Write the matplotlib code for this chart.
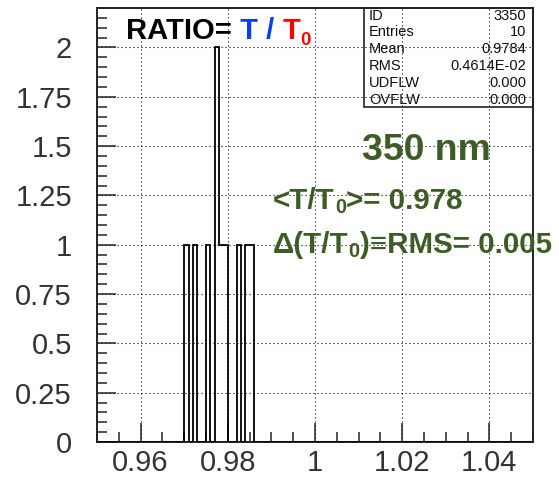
import numpy as np
import matplotlib
matplotlib.use('Agg')
import matplotlib.pyplot as plt
from matplotlib import font_manager
from matplotlib.ticker import MultipleLocator, FixedLocator

# Entries (bin centres) of the T/T0 ratio histogram
entries = [0.9705, 0.9725, 0.9755, 0.9775, 0.9775, 0.9785, 0.9795, 0.9825, 0.9845, 0.9855]
hist_id = 3350
bin_lo, bin_hi, n_bins = 0.95, 1.05, 100
x_labels = [0.96, 0.98, 1.00, 1.02, 1.04]
y_labels = [0, 0.25, 0.5, 0.75, 1, 1.25, 1.5, 1.75, 2]
wavelength = '350 nm'

W, H = 559, 479
GREEN = '#3e5c25'

names = {f.name for f in font_manager.fontManager.ttflist}
if 'Liberation Sans Narrow' in names:
    NARROW, shrink = 'Liberation Sans Narrow', 1.0
else:
    NARROW, shrink = 'Liberation Sans', 0.84
plt.rcParams['font.family'] = ['Liberation Sans', 'DejaVu Sans']

fig = plt.figure(figsize=(W / 100, H / 100), dpi=100)
ax = fig.add_axes([97 / W, 1 - 442 / H, (533 - 97) / W, (442 - 8) / H])

vals = np.array(entries)
edges = np.linspace(bin_lo, bin_hi, n_bins + 1)
ax.hist(vals, bins=edges, histtype='step', color='black', linewidth=1.3, zorder=3)

ax.set_xlim(bin_lo, bin_hi)
ax.set_ylim(0, 2.2)

ax.xaxis.set_major_locator(FixedLocator(x_labels))
ax.xaxis.set_minor_locator(MultipleLocator(0.005))
ax.yaxis.set_major_locator(FixedLocator(y_labels))
ax.yaxis.set_minor_locator(MultipleLocator(0.05))
ax.set_xticklabels(['%g' % v for v in x_labels])
ax.set_yticklabels(['%g' % v for v in y_labels])

ax.tick_params(which='both', direction='in', top=False, right=False,
               labelsize=21, labelcolor='#333333', color='#222222')
ax.tick_params(which='major', length=14, width=1.1)
ax.tick_params(which='minor', length=7, width=1.1)
ax.tick_params(axis='x', pad=5)
ax.tick_params(axis='y', pad=18)
ax.grid(True, which='major', color='black', linewidth=0.8, linestyle=(0, (1, 2.6)))
ax.set_axisbelow(True)
for s in ax.spines.values():
    s.set_color('#222222')
    s.set_linewidth(1.4)

# stats box
mean = vals.mean()
rms = vals.std()
exp = int(np.floor(np.log10(rms))) + 1
rms_str = '%.4fE%+03d' % (rms / 10 ** exp, exp)
rows = [('ID', str(hist_id)), ('Entries', str(len(vals))), ('Mean', '%.4f' % mean),
        ('RMS', rms_str), ('UDFLW', '0.000'), ('OVFLW', '0.000')]
box = plt.Rectangle((364 / W, 1 - 107 / H), (533 - 364) / W, (107 - 8) / H,
                    transform=fig.transFigure, fill=False, edgecolor='#222222', linewidth=1.2)
fig.add_artist(box)
for i, (k, v) in enumerate(rows):
    yy = 1 - (15.5 + 16.8 * i) / H
    fig.text(369 / W, yy, k, fontsize=10.5, va='center', ha='left', color='#111111')
    fig.text(526 / W, yy, v, fontsize=10.5, va='center', ha='right', color='#111111')

renderer = fig.canvas.get_renderer()


def text_run(x, y, pieces):
    # pieces: (text, size, colour, baseline shift px)
    for s, size, col, dy in pieces:
        t = fig.text(x / W, 1 - (y + dy) / H, s, fontsize=size, color=col,
                     family=[NARROW, 'Liberation Sans', 'DejaVu Sans'],
                     fontweight='bold', va='baseline', ha='left')
        bb = t.get_window_extent(renderer)
        x = bb.x1


# title
fs = 25 * shrink
text_run(126, 39, [('RATIO=', fs, 'black', 0), (' T / ', fs, '#0a3cff', 0),
                   ('T', fs, '#ff0000', 0), ('0', 16 * shrink, '#ff0000', 6)])

# green annotations
gs = 25.3 * shrink
text_run(362, 160, [(wavelength, 32 * shrink, GREEN, 0)])
text_run(273, 209, [('<T/T', gs, GREEN, 0), ('0', 17 * shrink, GREEN, 4),
                    ('>= %.3f' % mean, gs, GREEN, 0)])
text_run(273, 253, [('\u0394(T/T', gs, GREEN, 0), ('0', 17 * shrink, GREEN, 4),
                    (')\u2261RMS= %.3f' % rms, gs, GREEN, 0)])

fig.savefig('out.png', dpi=100)
